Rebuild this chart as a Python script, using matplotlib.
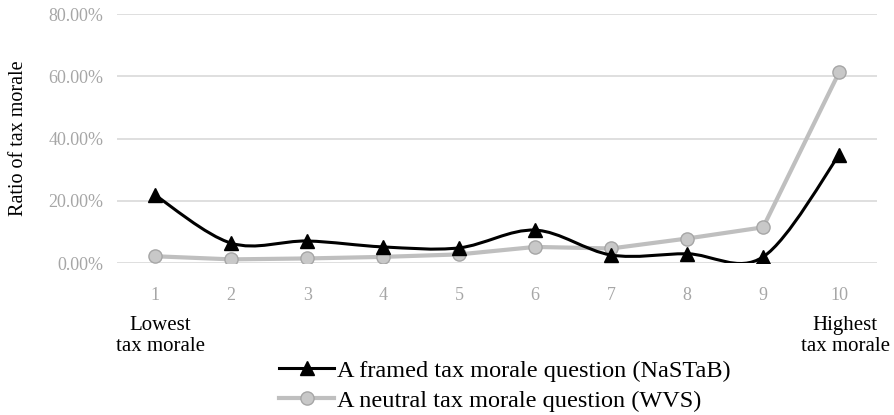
import numpy as np
import matplotlib.pyplot as plt
from matplotlib.path import Path
from matplotlib.patches import PathPatch
from matplotlib.lines import Line2D
from matplotlib import transforms
from matplotlib.ticker import PercentFormatter

plt.rcParams['font.family'] = ['Liberation Serif', 'DejaVu Serif']

levels = [1, 2, 3, 4, 5, 6, 7, 8, 9, 10]
framed_nastab = [0.218, 0.064, 0.071, 0.052, 0.049, 0.106, 0.026, 0.030, 0.020, 0.347]
neutral_wvs = [0.022, 0.012, 0.015, 0.020, 0.028, 0.052, 0.047, 0.079, 0.115, 0.613]

framed_label = "A framed tax morale question (NaSTaB)"
neutral_label = "A neutral tax morale question (WVS)"

tick_grey = "#a6a6a6"
line_grey = "#bfbfbf"


def smooth_path(xs, ys):
    # Catmull-Rom style cubic Bezier through every point
    xs = np.asarray(xs, float)
    ys = np.asarray(ys, float)
    n = len(xs)
    verts = [(xs[0], ys[0])]
    codes = [Path.MOVETO]
    for i in range(n - 1):
        p0 = (xs[max(i - 1, 0)], ys[max(i - 1, 0)])
        p1 = (xs[i], ys[i])
        p2 = (xs[i + 1], ys[i + 1])
        p3 = (xs[min(i + 2, n - 1)], ys[min(i + 2, n - 1)])
        c1 = (p1[0] + (p2[0] - p0[0]) / 6, p1[1] + (p2[1] - p0[1]) / 6)
        c2 = (p2[0] - (p3[0] - p1[0]) / 6, p2[1] - (p3[1] - p1[1]) / 6)
        verts += [c1, c2, p2]
        codes += [Path.CURVE4] * 3
    return Path(verts, codes)


fig = plt.figure(figsize=(8.95, 4.15), dpi=100)
ax = fig.add_axes([0.131, 0.366, 0.849, 0.600])

# neutral question: straight segments, grey
ax.plot(levels, neutral_wvs, color=line_grey, lw=3, zorder=3)
ax.plot(levels, neutral_wvs, ls="none", marker="o", ms=9.5,
        mfc="#c8c8c8", mec=tick_grey, mew=1, zorder=4)

# framed question: smoothed black curve
ax.add_patch(PathPatch(smooth_path(levels, framed_nastab), fc="none",
                       ec="black", lw=2.2, zorder=5))
ax.plot(levels, framed_nastab, ls="none", marker="^", ms=10,
        color="black", zorder=6)

ax.set_xlim(0.5, 10.5)
ax.set_ylim(0, 0.8)
ax.set_yticks([0, 0.2, 0.4, 0.6, 0.8])
ax.yaxis.set_major_formatter(PercentFormatter(1.0, decimals=2))
ax.set_xticks(levels)
ax.grid(axis="y", color="#d9d9d9", lw=1.2)
ax.set_axisbelow(True)
for s in ax.spines.values():
    s.set_visible(False)
ax.tick_params(axis="both", length=0, colors=tick_grey, labelsize=13)
ax.tick_params(axis="x", pad=17)
ax.tick_params(axis="y", pad=10)
ax.set_ylabel("Ratio of tax morale", fontsize=14.5, labelpad=15)

trans = transforms.blended_transform_factory(ax.transData, fig.transFigure)
ax.text(1.07, 0.191, "Lowest\ntax morale", transform=trans, ha="center",
        va="center", fontsize=15, linespacing=1.12)
ax.text(10.08, 0.191, "Highest\ntax morale", transform=trans, ha="center",
        va="center", fontsize=15, linespacing=1.12)

handles = [
    Line2D([], [], color="black", lw=2.2, marker="^", ms=10),
    Line2D([], [], color=line_grey, lw=3, marker="o", ms=9.5,
           mfc="#c8c8c8", mec=tick_grey),
]
fig.legend(handles, [framed_label, neutral_label], loc="upper center",
           bbox_to_anchor=(0.564, 0.162), frameon=False, fontsize=17.5,
           handlelength=2.26, handletextpad=0.12, labelspacing=0.32,
           borderpad=0)

fig.savefig("out.png", dpi=100)
